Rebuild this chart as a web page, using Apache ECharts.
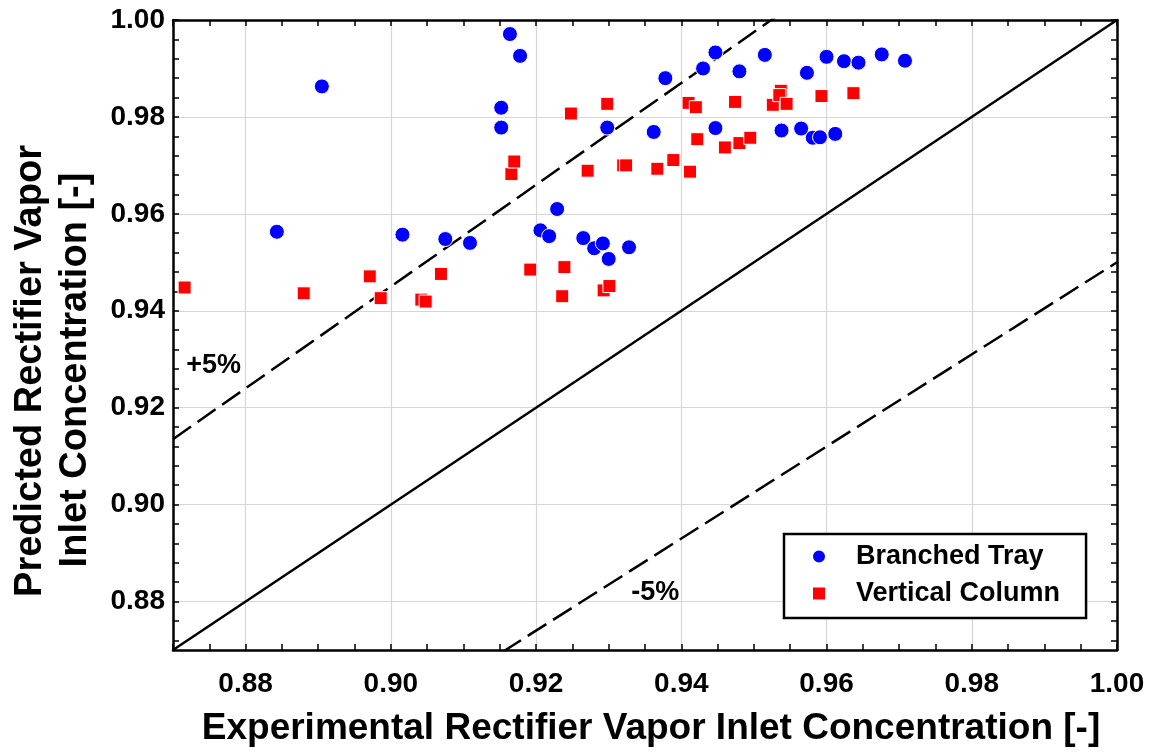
<!DOCTYPE html>
<html>
<head>
<meta charset="utf-8">
<script src="https://cdn.jsdelivr.net/npm/echarts@6/dist/echarts.min.js"></script>
<style>
  html, body { margin: 0; padding: 0; background: #fff; }
  #chart { width: 1161px; height: 752px; }
</style>
</head>
<body>
<div id="chart"></div>
<script>
// ---- data ----------------------------------------------------------------
const seriesNames = ['Branched Tray', 'Vertical Column'];

// [experimental, predicted]
const branchedTray = [
  [0.8843, 0.9563], [0.8905, 0.9863], [0.9016, 0.9557], [0.9075, 0.9548],
  [0.9109, 0.9540], [0.9152, 0.9819], [0.9152, 0.9778], [0.9164, 0.9971],
  [0.9178, 0.9926], [0.9206, 0.9566], [0.9218, 0.9554], [0.9229, 0.9610],
  [0.9265, 0.9550], [0.9280, 0.9529], [0.9292, 0.9539], [0.9300, 0.9507],
  [0.9298, 0.9778], [0.9328, 0.9531], [0.9362, 0.9769], [0.9378, 0.9880],
  [0.9430, 0.9900], [0.9447, 0.9933], [0.9447, 0.9777], [0.9480, 0.9894],
  [0.9515, 0.9928], [0.9538, 0.9772], [0.9565, 0.9776], [0.9573, 0.9891],
  [0.9581, 0.9757], [0.9591, 0.9758], [0.9600, 0.9924], [0.9612, 0.9765],
  [0.9624, 0.9915], [0.9644, 0.9912], [0.9676, 0.9929], [0.9708, 0.9916]
];

const verticalColumn = [
  [0.8716, 0.9448], [0.8880, 0.9436], [0.8971, 0.9471], [0.8986, 0.9426],
  [0.9042, 0.9423], [0.9048, 0.9419], [0.9069, 0.9476], [0.9166, 0.9682],
  [0.9170, 0.9708], [0.9192, 0.9485], [0.9236, 0.9430], [0.9239, 0.9490],
  [0.9248, 0.9807], [0.9271, 0.9689], [0.9293, 0.9442], [0.9301, 0.9451],
  [0.9298, 0.9827], [0.9320, 0.9700], [0.9324, 0.9700], [0.9367, 0.9693],
  [0.9389, 0.9711], [0.9410, 0.9829], [0.9412, 0.9687], [0.9420, 0.9820],
  [0.9422, 0.9754], [0.9460, 0.9737], [0.9474, 0.9831], [0.9480, 0.9746],
  [0.9495, 0.9757], [0.9526, 0.9825], [0.9537, 0.9854], [0.9535, 0.9845],
  [0.9545, 0.9827], [0.9593, 0.9843], [0.9637, 0.9849]
];

// reference lines: parity and +/-5 % bands (end points in data units)
const parityLine = [[0.87, 0.87], [1.00, 1.00]];
const plus5Line  = [[0.87, 0.9135], [1.00, 1.05]];
const minus5Line = [[0.87, 0.8265], [1.00, 0.95]];
const bandLabels = [
  { name: '+5%', value: [0.8756, 0.9287] },
  { name: '-5%', value: [0.9364, 0.8819] }
];

const axisMin = 0.87, axisMax = 1.00;
const xTickLabels = [0.88, 0.90, 0.92, 0.94, 0.96, 0.98, 1.00];
const yTickLabels = [0.88, 0.90, 0.92, 0.94, 0.96, 0.98, 1.00];
const xGridValues = [0.88, 0.90, 0.92, 0.94, 0.96, 0.98];
const yGridValues = [0.88, 0.90, 0.92, 0.94, 0.96, 0.98];

// ---- helpers -------------------------------------------------------------
function steps(start, end, step) {
  const out = [];
  const n = Math.round((end - start) / step);
  for (let i = 0; i <= n; i++) out.push(+(start + i * step).toFixed(4));
  return out;
}
const xMinorTicks = steps(0.870, 1.000, 0.005);
const yMinorTicks = steps(0.872, 1.000, 0.004);

const FONT = '"Liberation Sans", Arial, sans-serif';

function frameAxis(position, ticks, labels) {
  return {
    type: 'value', position: position, min: axisMin, max: axisMax,
    axisLine: { show: true, onZero: false, lineStyle: { color: '#000', width: 2.5 } },
    axisTick: { show: true, inside: true, length: 6, customValues: ticks,
                lineStyle: { color: '#000', width: 1.5 } },
    axisLabel: labels ? {
      show: true, customValues: labels, margin: position === 'bottom' ? 20 : 8,
      formatter: v => v.toFixed(2),
      color: '#000', fontSize: 28, fontWeight: 'bold', fontFamily: FONT
    } : { show: false },
    splitLine: { show: false }
  };
}
function gridAxis(position, values) {
  return {
    type: 'value', position: position, min: axisMin, max: axisMax,
    axisLine: { show: false },
    axisTick: { show: false, customValues: values },
    axisLabel: { show: false },
    splitLine: { show: true, lineStyle: { color: '#d6d6d6', width: 1.2 } }
  };
}

// ---- chart ---------------------------------------------------------------
const chart = echarts.init(document.getElementById('chart'), null, { renderer: 'canvas' });

chart.setOption({
  backgroundColor: '#fff',
  animation: false,
  grid: { left: 173, top: 20, width: 944, height: 630, containLabel: false },
  xAxis: [
    frameAxis('bottom', xMinorTicks, xTickLabels),
    frameAxis('top', xMinorTicks, null),
    gridAxis('bottom', xGridValues)
  ],
  yAxis: [
    frameAxis('left', yMinorTicks, yTickLabels),
    frameAxis('right', yMinorTicks, null),
    gridAxis('left', yGridValues)
  ],
  legend: {
    orient: 'vertical', left: 784, top: 534,
    backgroundColor: '#fff',
    borderColor: '#000', borderWidth: 2.5, borderRadius: 0,
    padding: [9, 26, 11, 27], itemGap: 10,
    itemWidth: 14, itemHeight: 14,
    textStyle: { color: '#000', fontSize: 27, fontWeight: 'bold', fontFamily: FONT,
                 padding: [0, 0, 0, 25] },
    data: [
      { name: seriesNames[0], icon: 'circle' },
      { name: seriesNames[1], icon: 'rect' }
    ]
  },
  graphic: [
    {
      type: 'text', x: 651, y: 729,
      style: { text: 'Experimental Rectifier Vapor Inlet Concentration [-]',
               fill: '#000', font: 'bold 37px ' + FONT,
               textAlign: 'center', textVerticalAlign: 'middle' }
    },
    {
      type: 'text', x: 31, y: 371, rotation: Math.PI / 2,
      style: { text: 'Predicted Rectifier Vapor',
               fill: '#000', font: 'bold 38px ' + FONT,
               textAlign: 'center', textVerticalAlign: 'middle' }
    },
    {
      type: 'text', x: 76, y: 370, rotation: Math.PI / 2,
      style: { text: 'Inlet Concentration [-]',
               fill: '#000', font: 'bold 38px ' + FONT,
               textAlign: 'center', textVerticalAlign: 'middle' }
    }
  ],
  series: [
    {
      type: 'line', name: 'parity', data: parityLine, clip: true,
      showSymbol: false, symbol: 'none', silent: true, z: 1,
      lineStyle: { color: '#000', width: 2.5, type: 'solid' }
    },
    {
      type: 'line', name: 'plus5', data: plus5Line, clip: true,
      showSymbol: false, symbol: 'none', silent: true, z: 1,
      lineStyle: { color: '#000', width: 2.5, type: [22, 8] }
    },
    {
      type: 'line', name: 'minus5', data: minus5Line, clip: true,
      showSymbol: false, symbol: 'none', silent: true, z: 1,
      lineStyle: { color: '#000', width: 2.5, type: [22, 8] }
    },
    {
      type: 'scatter', name: 'bands', data: bandLabels, symbolSize: 0, silent: true, z: 3,
      itemStyle: { opacity: 1 },
      label: { show: true, position: 'inside', formatter: '{b}', opacity: 1,
               color: '#000', textBorderWidth: 0,
               fontSize: 27, fontWeight: 'bold', fontFamily: FONT }
    },
    {
      type: 'scatter', name: seriesNames[0], data: branchedTray, z: 4,
      symbol: 'circle', symbolSize: 15,
      itemStyle: { color: '#0000ff', borderColor: '#fff', borderWidth: 1, opacity: 1 }
    },
    {
      type: 'scatter', name: seriesNames[1], data: verticalColumn, z: 4,
      symbol: 'rect', symbolSize: 13,
      itemStyle: { color: '#ff0000', borderColor: '#fff', borderWidth: 1, opacity: 1 }
    }
  ]
});
</script>
</body>
</html>
